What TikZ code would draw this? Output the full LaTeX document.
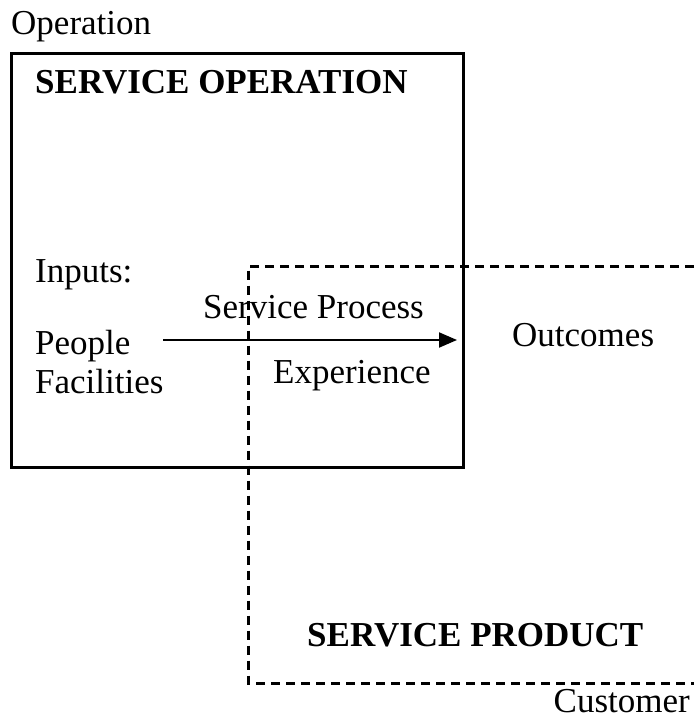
\documentclass[tikz,border=0pt]{standalone}
\usepackage{fontspec}
\setmainfont{Liberation Serif}
\usetikzlibrary{arrows.meta}
\begin{document}
\begin{tikzpicture}
      [
      x=1pt,y=-1pt,
      txt/.style={inner sep=0pt,anchor=base west,font=\fontsize{35}{42}\selectfont},
      title/.style={txt,font=\fontsize{35}{42}\selectfont\bfseries},
      opbox/.style={line width=3pt},
      prodbox/.style={line width=3pt,dash pattern=on 9pt off 6pt}
      ]
      \useasboundingbox (0,0) rectangle (694,720);
      \draw [opbox] (11.5,53) rectangle (463,467);
      \draw [prodbox] (694,266) -| (248.5,683) -- (694,683);

      \node (operation) at (11,34) [txt] {Operation};
      \node (serviceop) at (35,93) [title] {SERVICE OPERATION};
      \node (inputs) at (35,282) [txt] {Inputs:};
      \node (people) at (35,354) [txt] {People};
      \node (facilities) at (35,393) [txt] {Facilities};
      \node (process) at (203,318) [txt] {Service Process};
      \node (experience) at (273,383) [txt] {Experience};
      \node (outcomes) at (512,346) [txt] {Outcomes};
      \node (serviceprod) at (307,646) [title] {SERVICE PRODUCT};
      \node (customer) at (690,712) [txt,anchor=base east] {Customer};

      \coordinate (from) at (163,340);
      \coordinate (to) at (457,340);
      \draw [line width=2pt,-{Triangle[length=18pt,width=15pt]}] (from) to (to);
    \end{tikzpicture}
\end{document}
